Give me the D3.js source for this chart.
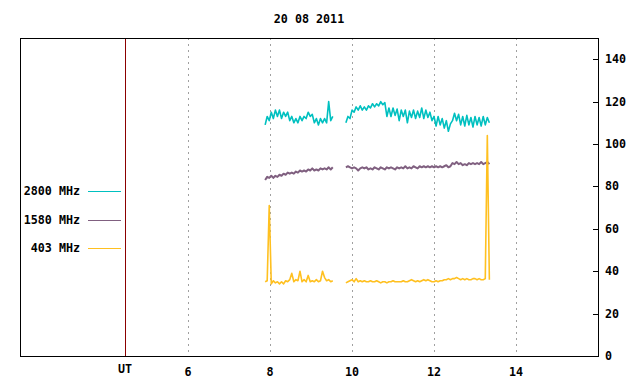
<!DOCTYPE html>
<html>
<head>
<meta charset="utf-8">
<script src="https://cdn.jsdelivr.net/npm/d3@7"></script>
<style>
  body { margin: 0; background: #fff; }
  text { font-family: "DejaVu Sans Mono", monospace; font-weight: bold; font-size: 11.7px; fill: #000; }
</style>
</head>
<body>
<svg id="chart" width="640" height="384"></svg>
<script>
// sampling: two recording segments, 0.05 h between samples
const step = 0.05;
const seg1Start = 7.88;
const seg2Start = 9.85;

const xTicks = [6, 8, 10, 12, 14];
const yTicks = [0, 20, 40, 60, 80, 100, 120, 140];
const utHour = 4.46;

const labels = ["2800 MHz", "1580 MHz", "403 MHz"];
const colors = ["#00c0c0", "#806080", "#ffc020"];
const widths = [1.6, 2, 1.6];

// flux values (sfu)
const f2800a = [109, 113, 111, 115, 112, 116, 113, 116, 112, 115, 113, 115, 111, 113, 110, 112, 110, 113,
  111, 113, 112, 115, 113, 114, 110, 112, 109, 112, 110, 112, 110, 120, 111, 113];
const f2800b = [110, 113, 112, 116, 115, 117.5, 116, 118, 116, 117.5, 116, 118, 117, 119, 117.5, 119, 118, 120,
  118.5, 119.5, 113, 117, 113, 117, 113.5, 116.5, 111, 116, 113, 116, 110, 115.5, 112.5, 116, 112, 115.5,
  112.5, 117, 112, 116, 112.5, 115, 111, 113, 108.5, 113, 109, 112, 107.5, 111, 106, 109.5, 111, 114.5,
  111, 114, 109, 113, 108.5, 113.5, 109, 112.5, 108, 113, 109, 112.5, 108.5, 113, 109, 112.5, 110];

const f1580a = [83, 84.5, 84, 85, 84, 85, 84.5, 85.5, 85, 86, 85.5, 86.5, 86, 86.5, 86, 87, 86.5, 87.5,
  87, 87.5, 87, 88, 87.5, 88.5, 87.5, 88, 87.5, 88.5, 88, 88.5, 88, 89, 88, 89];
const f1580b = [89, 89.5, 89, 88.5, 89, 88.5, 87.5, 88.5, 89, 88.5, 89, 88, 88.5, 88, 89, 88.5, 88, 89,
  88.5, 88, 89, 88.5, 89, 88.5, 88, 89, 88.5, 89, 88.5, 89.5, 88.5, 89, 88.5, 89.5, 89, 88.5, 89.5, 89,
  89.5, 89, 89.5, 89, 89.5, 89, 89.5, 89, 89.5, 89, 89.5, 90, 89, 89.5, 91, 90.5, 91.5, 90.5, 91, 90,
  90.5, 90, 91, 90.5, 91, 90.5, 91, 90.5, 91.5, 90.5, 91, 91.5, 90.5];

const f403a = [35, 35.5, 71, 34, 35.5, 34.5, 35, 34, 35, 34, 35.5, 35, 36, 39, 35, 36, 35.5, 40,
  35, 36, 35, 38, 35, 35.5, 35, 36, 35, 35.5, 40, 37, 35.5, 36, 35, 35.5];
const f403b = [34.5, 35, 35.5, 36, 35, 36.5, 35, 35.5, 35, 35.5, 35, 35, 35.5, 35, 35, 35.5, 35, 34.5,
  35, 35, 34.5, 35, 35, 35.5, 35, 35, 35, 35, 35.5, 35, 35, 35.5, 36, 35.5, 35, 35.5, 35, 35.5, 36,
  35.5, 36, 35.5, 35, 35, 35.5, 35, 35.5, 35.5, 36, 36, 36.5, 36, 36.5, 36.5, 37, 36.5, 36, 36.5, 36,
  36.5, 36, 36, 36.5, 36.5, 36, 36.5, 36, 36, 36.5, 104, 36];

const series = [[f2800a, f2800b], [f1580a, f1580b], [f403a, f403b]];

const svg = d3.select("#chart");
const plotL = 20, plotR = 598, plotT = 38, plotB = 356;

let x = d3.scaleLinear().domain([1.9, 16]).range([plotL, plotR]);
let y = d3.scaleLinear().domain([0, 150]).range([plotB, plotT]);

// title
svg.append("text")
    .attr("x", (plotL + plotR) / 2)
    .attr("y", 23)
    .attr("text-anchor", "middle")
    .text("20 08 2011");

// dashed hour grid
svg.append("g").selectAll("line")
    .data(xTicks)
    .enter().append("line")
    .attr("x1", d => Math.round(x(d)) + 0.5)
    .attr("x2", d => Math.round(x(d)) + 0.5)
    .attr("y1", plotT)
    .attr("y2", plotB)
    .attr("stroke", "#a0a0a0")
    .attr("stroke-dasharray", "2,4");

// UT marker line
svg.append("line")
    .attr("x1", Math.round(x(utHour)) + 0.5)
    .attr("x2", Math.round(x(utHour)) + 0.5)
    .attr("y1", plotT)
    .attr("y2", plotB)
    .attr("stroke", "#8b0000");

// series lines, gap between the two segments
let line = d3.line()
    .defined(d => d !== null)
    .x(d => x(d.t))
    .y(d => y(d.v));

series.forEach(function (s, k) {
    let pts = s[0].map((v, i) => ({t: seg1Start + i * step, v: v}));
    pts.push(null);
    pts = pts.concat(s[1].map((v, i) => ({t: seg2Start + i * step, v: v})));
    svg.append("path")
        .datum(pts)
        .attr("fill", "none")
        .attr("stroke", colors[k])
        .attr("stroke-width", widths[k])
        .attr("stroke-linejoin", "round")
        .attr("d", line);
});

// frame
svg.append("rect")
    .attr("x", plotL + 0.5)
    .attr("y", plotT + 0.5)
    .attr("width", plotR - plotL)
    .attr("height", plotB - plotT)
    .attr("fill", "none")
    .attr("stroke", "#000");

// right axis, ticks point inward
let yg = svg.append("g");
yg.selectAll("line")
    .data(yTicks)
    .enter().append("line")
    .attr("x1", plotR - 5)
    .attr("x2", plotR)
    .attr("y1", d => Math.round(y(d)) + 0.5)
    .attr("y2", d => Math.round(y(d)) + 0.5)
    .attr("stroke", "#000");
yg.selectAll("text")
    .data(yTicks)
    .enter().append("text")
    .attr("x", plotR + 7)
    .attr("y", d => y(d) + 4)
    .text(d => d);

// bottom labels
svg.append("g").selectAll("text")
    .data(xTicks)
    .enter().append("text")
    .attr("x", d => x(d))
    .attr("y", 376)
    .attr("text-anchor", "middle")
    .text(d => d);

svg.append("text")
    .attr("x", x(utHour))
    .attr("y", 373)
    .attr("text-anchor", "middle")
    .text("UT");

// legend on the left
let lg = svg.append("g");
labels.forEach(function (name, k) {
    let ly = 191 + k * 28.5;
    lg.append("text")
        .attr("x", 80)
        .attr("y", ly + 4)
        .attr("text-anchor", "end")
        .text(name);
    lg.append("line")
        .attr("x1", 88)
        .attr("x2", 121)
        .attr("y1", Math.round(ly) + 0.5)
        .attr("y2", Math.round(ly) + 0.5)
        .attr("stroke", colors[k]);
});
</script>
</body>
</html>
